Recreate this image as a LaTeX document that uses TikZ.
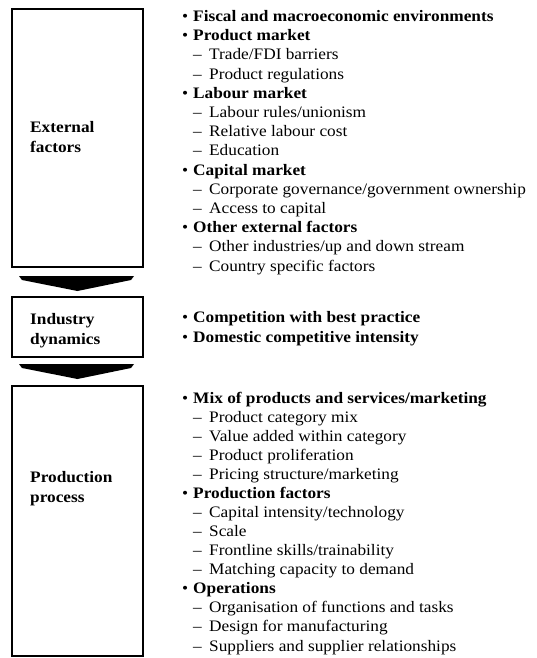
\documentclass[tikz,border=0pt]{standalone}
\usepackage{fontspec}
\setmainfont{Liberation Serif}[FakeStretch=1.08]
\usetikzlibrary{calc}

\newcommand{\mainpt}[1]{\makebox[11pt][l]{\textbullet}\textbf{#1}}
\newcommand{\subpt}[1]{\hspace*{11pt}\makebox[16pt][l]{--}#1}

\begin{document}
\begin{tikzpicture}[x=1pt,y=-1pt,
  stage/.style={draw,line width=2pt,minimum width=131pt,inner sep=0pt},
  stagelabel/.style={anchor=base west,align=left,inner sep=0pt,font=\fontsize{16}{20}\selectfont\bfseries},
  itemlist/.style={anchor=base west,align=left,inner sep=0pt}]

\useasboundingbox (0,0) rectangle (536,658);

\begin{scope}
\node [stage, minimum height=258pt] (ext)  at (77.5,138) {};
\node [stage, minimum height=60pt]  (ind)  at (77.5,326.5) {};
\node [stage, minimum height=270pt] (prod) at (77.5,521) {};
\end{scope}

% multi-line nodes sit on the baseline of their last line
\node [stagelabel] (extlbl)  at (30,152) {External\\factors};
\node [stagelabel] (indlbl)  at (30,344) {Industry\\dynamics};
\node [stagelabel] (prodlbl) at (30,502) {Production\\process};

\begin{scope}[fill=black]
\fill ($(ext.south)+(-58.5,8)$) -- ++(115,0) -- ++(-3,4) -- ($(ind.north)+(0,-4.5)$)
  -- ($(ext.south)+(-55.5,12)$) -- cycle;
\fill ($(ind.south)+(-58.5,6.5)$) -- ++(115,0) -- ++(-3,4) -- ($(prod.north)+(0,-6)$)
  -- ($(ind.south)+(-55.5,10.5)$) -- cycle;
\end{scope}

\node [itemlist, font=\fontsize{16}{19.2}\selectfont] (extlist) at (182,271) {%
\mainpt{Fiscal and macroeconomic environments}\\
\mainpt{Product market}\\
\subpt{Trade/FDI barriers}\\
\subpt{Product regulations}\\
\mainpt{Labour market}\\
\subpt{Labour rules/unionism}\\
\subpt{Relative labour cost}\\
\subpt{Education}\\
\mainpt{Capital market}\\
\subpt{Corporate governance/government ownership}\\
\subpt{Access to capital}\\
\mainpt{Other external factors}\\
\subpt{Other industries/up and down stream}\\
\subpt{Country specific factors}};

\node [itemlist, font=\fontsize{16}{20}\selectfont] (indlist) at (182,342) {%
\mainpt{Competition with best practice}\\
\mainpt{Domestic competitive intensity}};

\node [itemlist, font=\fontsize{16}{19.05}\selectfont] (prodlist) at (182,651) {%
\mainpt{Mix of products and services/marketing}\\
\subpt{Product category mix}\\
\subpt{Value added within category}\\
\subpt{Product proliferation}\\
\subpt{Pricing structure/marketing}\\
\mainpt{Production factors}\\
\subpt{Capital intensity/technology}\\
\subpt{Scale}\\
\subpt{Frontline skills/trainability}\\
\subpt{Matching capacity to demand}\\
\mainpt{Operations}\\
\subpt{Organisation of functions and tasks}\\
\subpt{Design for manufacturing}\\
\subpt{Suppliers and supplier relationships}};

\end{tikzpicture}
\end{document}
